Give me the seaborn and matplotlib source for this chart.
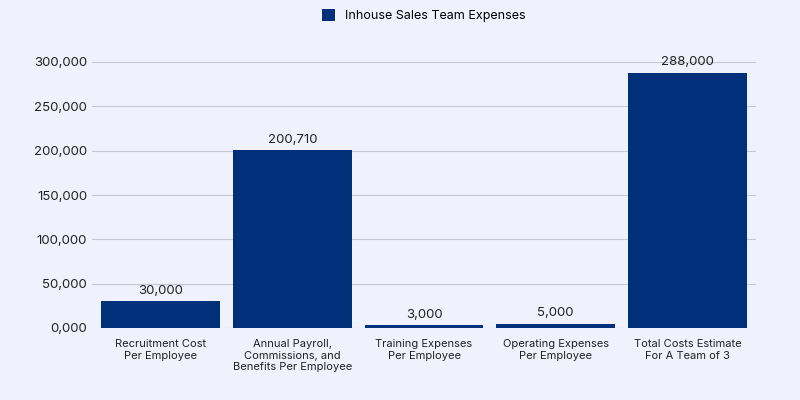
import matplotlib
matplotlib.use("Agg")
import matplotlib.pyplot as plt
import seaborn as sns
import pandas as pd
from matplotlib.ticker import FuncFormatter

categories = ["Recruitment Cost\nPer Employee",
              "Annual Payroll,\nCommissions, and\nBenefits Per Employee",
              "Training Expenses\nPer Employee",
              "Operating Expenses\nPer Employee",
              "Total Costs Estimate\nFor A Team of 3"]
values = [30000, 200710, 3000, 5000, 288000]
series_name = "Inhouse Sales Team Expenses"

df = pd.DataFrame({"cat": categories, "val": values, "s": series_name})
bg = "#eff2fd"
navy = "#00307a"
plt.rcParams["font.family"] = "Inter"

fig = plt.figure(figsize=(8, 4), dpi=100, facecolor=bg)
ax = fig.add_axes([0.115, 0.18, 0.83, 0.665], facecolor=bg)
sns.barplot(data=df, x="cat", y="val", hue="s", palette=[navy], width=0.9, ax=ax, saturation=1)
for p, v in zip(ax.patches, values):
    ax.text(p.get_x() + p.get_width() / 2, v + 5000, f"{v:,}", ha="center", va="bottom", fontsize=9.5, color="#222")
ax.set_ylim(0, 300000)
ax.set_yticks(range(0, 300001, 50000))
ax.yaxis.set_major_formatter(FuncFormatter(lambda x, p: "0,000" if x == 0 else f"{int(x):,}"))
ax.grid(axis="y", color="#c4c8d4", linewidth=0.8)
ax.set_axisbelow(True)
for s in ax.spines.values():
    s.set_visible(False)
ax.tick_params(length=0, labelsize=9.5, colors="#222")
ax.tick_params(axis="x", labelsize=8, pad=8)
ax.set_xlabel(""); ax.set_ylabel("")
ax.set_xlim(-0.52, 4.52)
ax.legend(loc="upper center", bbox_to_anchor=(0.5, 1.24), frameon=False, fontsize=9,
          handlelength=1.0, handleheight=1.0)
fig.savefig("out.png", dpi=100, facecolor=bg)
